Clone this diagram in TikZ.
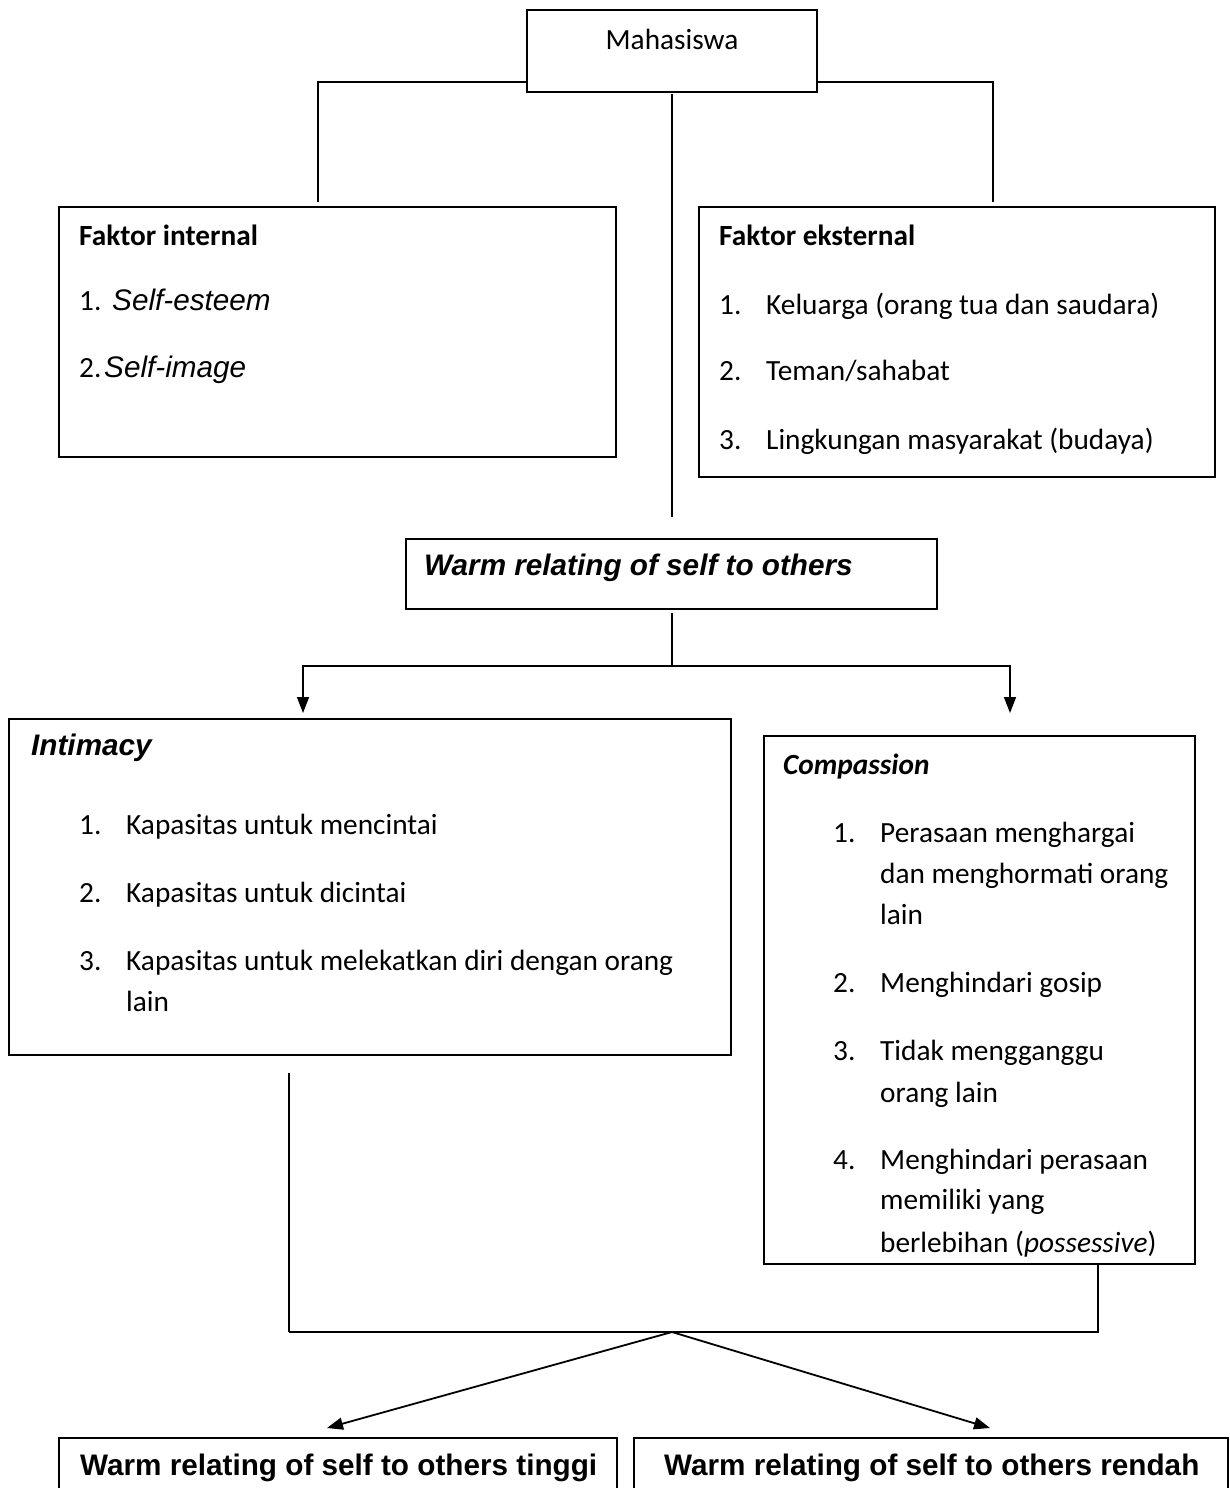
\documentclass[tikz,border=0pt]{standalone}
\usepackage{fontspec}
\setmainfont{Carlito}
\newfontfamily\arial{Liberation Sans}
\usetikzlibrary{arrows.meta}
\newcommand{\arialtxt}{\arial\fontsize{29.7}{35}\selectfont}
\begin{document}
\begin{tikzpicture}[x=1pt,y=-1pt,
  box/.style={draw, line width=1.8pt, inner sep=0pt, outer sep=0pt, anchor=north west},
  txt/.style={inner sep=0pt, anchor=west, text height=20pt, text depth=6pt, font=\fontsize{29.3}{35}\selectfont},
  link/.style={line width=1.5pt},
  thick link/.style={line width=2.4pt},
  arr/.style={link, -{Triangle[length=16pt,width=12pt]}}]
\useasboundingbox (0,0) rectangle (1230,1488);
% boxes
\node[box, minimum width=290pt, minimum height=82pt] (mhs) at (527,10) {};
\node[box, minimum width=557pt, minimum height=250pt] (fi) at (59,207) {};
\node[box, minimum width=516pt, minimum height=270pt] (fe) at (699,207) {};
\node[box, minimum width=531pt, minimum height=70pt] (wr) at (406,539) {};
\node[box, minimum width=722pt, minimum height=336pt] (intim) at (9,719) {};
\node[box, minimum width=431pt, minimum height=528pt] (comp) at (764,736) {};
\node[box, minimum width=558pt, minimum height=70pt] (hi) at (59,1438) {};
\node[box, minimum width=594pt, minimum height=70pt] (lo) at (634,1438) {};
% connector coordinates
\coordinate (fiTop) at (318,202);
\coordinate (feTop) at (993,202);
\coordinate (wrTop) at (672,517);
\coordinate (mhsBot) at (672,94);
\coordinate (wrBot) at (672,613);
\coordinate (split) at (672,666);
\coordinate (ia) at (303,713);
\coordinate (ca) at (1010,713);
\coordinate (intimBot) at (289,1073);
\coordinate (join) at (672,1332);
\coordinate (hiTop) at (327,1428);
\coordinate (loTop) at (990,1428);
% connectors
\draw[link] ([yshift=10pt]mhs.south west) -| (fiTop);
\draw[link] ([yshift=10pt]mhs.south east) -| (feTop);
\draw[link] (mhsBot) -- (wrTop);
\draw[link] (wrBot) -- (split);
\draw[thick link] (303,666) -- (1010,666);
\draw[arr] (split) -| (ia);
\draw[arr] (split) -| (ca);
\draw[link] (intimBot) -- (289,1332);
\draw[thick link] (289,1332) -- (1098,1332);
\draw[link] (join) -| (comp.south -| 1098,0);
\draw[arr, line width=1.8pt] (join) -- (hiTop);
\draw[arr, line width=1.8pt] (join) -- (loTop);
% texts
\node[txt, anchor=center] (tmhs) at (672,43) {Mahasiswa};
\node[txt] (tfi) at (79,238) {\bfseries Faktor internal};
\node[txt] (tfi1n) at (79,303) {1.};
\node[txt] (tfi1) at (112,303) {\arialtxt\itshape Self-esteem};
\node[txt] (tfi2n) at (79,370) {2.};
\node[txt] (tfi2) at (104,370) {\arialtxt\itshape Self-image};
\node[txt] (tfe) at (719,238) {\bfseries Faktor eksternal};
\node[txt] (tfe1n) at (719,307) {1.};
\node[txt] (tfe1) at (766,307) {Keluarga (orang tua dan saudara)};
\node[txt] (tfe2n) at (719,373) {2.};
\node[txt] (tfe2) at (766,373) {Teman/sahabat};
\node[txt] (tfe3n) at (719,442) {3.};
\node[txt] (tfe3) at (766,442) {Lingkungan masyarakat (budaya)};
\node[txt] (twr) at (424,568) {\arialtxt\bfseries\itshape Warm relating of self to others};
\node[txt] (tin) at (31,748) {\arialtxt\bfseries\itshape Intimacy};
\node[txt] (tin1n) at (79,827) {1.};
\node[txt] (tin1) at (126,827) {Kapasitas untuk mencintai};
\node[txt] (tin2n) at (79,895) {2.};
\node[txt] (tin2) at (126,895) {Kapasitas untuk dicintai};
\node[txt] (tin3n) at (79,963) {3.};
\node[txt] (tin3) at (126,963) {Kapasitas untuk melekatkan diri dengan orang};
\node[txt] (tin3b) at (126,1004) {lain};
\node[txt] (tco) at (783,767) {\bfseries\itshape Compassion};
\node[txt] (tco1n) at (833,835) {1.};
\node[txt] (tco1) at (880,835) {Perasaan menghargai};
\node[txt] (tco1b) at (880,876) {dan menghormati orang};
\node[txt] (tco1c) at (880,917) {lain};
\node[txt] (tco2n) at (833,985) {2.};
\node[txt] (tco2) at (880,985) {Menghindari gosip};
\node[txt] (tco3n) at (833,1053) {3.};
\node[txt] (tco3) at (880,1053) {Tidak mengganggu};
\node[txt] (tco3b) at (880,1095) {orang lain};
\node[txt] (tco4n) at (833,1162) {4.};
\node[txt] (tco4) at (880,1162) {Menghindari perasaan};
\node[txt] (tco4b) at (880,1202) {memiliki yang};
\node[txt] (tco4c) at (880,1245) {berlebihan (\textit{possessive})};
\node[txt] (thi) at (80,1468) {\arialtxt\bfseries Warm relating of self to others tinggi};
\node[txt] (tlo) at (664,1468) {\arialtxt\bfseries Warm relating of self to others rendah};
\end{tikzpicture}
\end{document}
